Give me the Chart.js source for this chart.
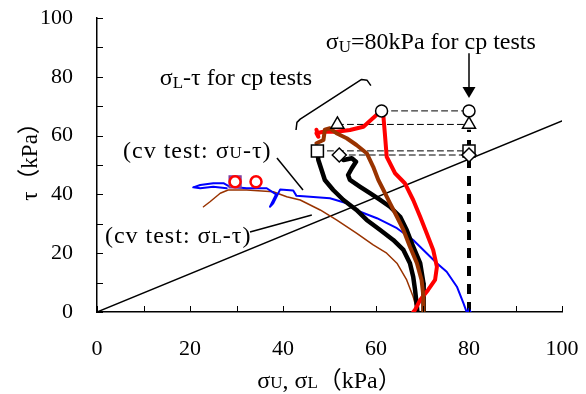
<!DOCTYPE html>
<html>
<head>
<meta charset="utf-8">
<script src="https://cdn.jsdelivr.net/npm/chart.js@4.4.0/dist/chart.umd.min.js"></script>
<style>
  html, body { margin: 0; padding: 0; background: #fff; }
  #wrap { width: 586px; height: 394px; }
</style>
</head>
<body>
<div id="wrap"><canvas id="c"></canvas></div>
<script>
// ---- data, all in kPa ----
// failure line tau = 0.65 sigma
const lineX = [0, 100];
const lineY = [0, 65];

// sigma_U = 80 kPa for cp tests (thick dashed)
const cpDashX = [80, 80];
const cpDashY = [0, 62];

// cp tests: sigma_L - tau paths
const redX = [68.0, 68.4, 69.5, 71.2, 72.7, 73.1, 72.3, 70.9, 69.5, 68.0, 66.2, 64.1, 62.3, 61.9, 61.6, 61.2, 60.1, 57.3, 54.4, 51.5, 48.7, 47.2, 47.6, 47.2];
const redY = [0, 0.7, 4.1, 7.5, 10.9, 15.4, 21.1, 26.8, 32.4, 38.1, 43.8, 47.2, 52.8, 60.8, 66.4, 68.4, 67.0, 63.0, 61.9, 61.3, 61.3, 60.8, 59.6, 62.0];

const blkAX = [47.4, 47.6, 48.3, 49.0, 50.8, 53.0, 55.8, 58.0, 60.9, 63.7, 65.9, 67.3, 68.0, 68.4, 68.8, 68.9];
const blkAY = [54.8, 51.7, 48.3, 44.9, 41.5, 38.1, 34.7, 31.3, 27.9, 24.5, 21.1, 16.6, 12.0, 7.5, 1.8, 0];

const blkBX = [52.1, 53.0, 54.8, 55.7, 54.8, 54.0, 54.4, 56.6, 58.7, 60.9, 63.0, 65.2, 66.6, 68.0, 69.5, 70.2, 70.3, 70.2];
const blkBY = [53.4, 51.7, 52.3, 51.1, 48.9, 46.6, 44.9, 42.6, 40.4, 38.1, 35.8, 32.4, 27.9, 22.2, 16.6, 9.8, 3.0, 0];

const brnX = [47.2, 48.7, 49.0, 50.1, 51.5, 53.7, 55.8, 58.0, 59.4, 60.5, 61.6, 63.0, 64.5, 65.9, 67.3, 68.8, 69.8, 70.2, 70.2];
const brnY = [57.4, 58.5, 62.0, 62.5, 60.8, 59.1, 56.8, 54.0, 49.4, 44.9, 41.5, 37.0, 32.4, 27.9, 22.2, 16.6, 10.9, 5.2, 0];

// cv test paths
const cvBrnX = [69.0, 68.8, 68.0, 66.6, 64.5, 62.3, 59.4, 55.8, 51.5, 48.0, 43.7, 40.8, 37.9, 32.2, 28.2, 26.5, 24.3, 22.9];
const cvBrnY = [0, 0.7, 5.2, 10.9, 16.6, 20.0, 22.8, 26.8, 31.3, 34.7, 38.1, 39.2, 40.9, 41.5, 41.5, 40.4, 37.5, 35.8];

const cvBluX = [79.5, 78.8, 77.4, 75.2, 73.1, 70.9, 68.0, 64.5, 60.2, 56.6, 53.7, 50.1, 45.8, 42.9, 42.2, 39.4, 37.9, 37.2, 38.5, 36.5, 32.2, 28.6, 27.2, 25.0, 22.2, 20.7, 22.2, 25.0, 27.9];
const cvBluY = [0, 3.0, 8.6, 13.7, 16.6, 20.0, 24.5, 28.5, 31.9, 34.1, 37.0, 38.7, 39.2, 39.5, 41.3, 41.7, 37.0, 35.8, 40.0, 42.1, 42.1, 42.6, 43.8, 43.8, 43.2, 42.4, 42.1, 42.6, 42.1];

// cp failure points (circle, triangle, square, diamond)
const cpFailX = [61.2, 51.7, 47.4, 52.1];
const cpFailY = [68.4, 63.8, 54.8, 53.4];
const cpUX = [80, 80, 80, 80];

// cv failure points
const cvFailX = [29.7, 34.2];
const cvFailY = [44.3, 44.3];

const tickStep = 10;
const labelStep = 20;

const xy = (xs, ys) => xs.map((v, i) => ({ x: v, y: ys[i] }));
const serif = "'Liberation Serif', 'Times New Roman', 'Noto Sans CJK JP', serif";

function line(data, color, width, order, dash) {
  return { data, borderColor: color, borderWidth: width, showLine: true, pointRadius: 0,
           borderDash: dash || [], order, borderJoinStyle: 'round', borderCapStyle: 'round' };
}

const datasets = [
  line(xy(lineX, lineY), '#000', 1.5, 9),
  // connecting dashed lines from failure point to sigma_U
  ...cpFailX.map((v, i) => line(xy([v, 80], [cpFailY[i], cpFailY[i]]), '#000', 1, 8, [6, 4])),
  Object.assign(line(xy(cpDashX, cpDashY), '#000', 4, 7, [10, 8]), { borderCapStyle: 'butt' }),
  line(xy(cvBrnX, cvBrnY), '#993300', 1.5, 6),
  line(xy(cvBluX, cvBluY), '#0000ff', 2, 5),
  line(xy(blkAX, blkAY), '#000', 4.5, 4),
  line(xy(blkBX, blkBY), '#000', 4.5, 4),
  line(xy(redX, redY), '#ff0000', 4, 3),
  line(xy(brnX, brnY), '#993300', 4, 2),
  { data: xy([80], [0]), pointStyle: 'triangle', pointRadius: 4, backgroundColor: '#0000ff', borderColor: '#0000ff', order: 1 },
  { data: xy(cpFailX.concat(cpUX), cpFailY.concat(cpFailY)),
    pointStyle: ['circle', 'triangle', 'rect', 'rectRot', 'circle', 'triangle', 'rect', 'rectRot'],
    pointRadius: [6, 7.5, 8.5, 7, 6, 7.5, 8.5, 7],
    backgroundColor: '#fff', borderColor: '#000', borderWidth: 1.5, order: 0 },
  { data: xy([cvFailX[0]], [cvFailY[0]]), pointStyle: 'rect', pointRadius: 8.3,
    backgroundColor: '#a080c0', borderColor: '#7f3f9f', borderWidth: 1.5, order: 0 },
  { data: xy(cvFailX, cvFailY), pointStyle: 'circle', pointRadius: 5.5,
    backgroundColor: '#fff', borderColor: '#ff0000', borderWidth: 2.5, order: -1 },
];

// text pieces: 'sub' = lowered small letter, 'sc' = small letter on the baseline
// x = left edge, y = baseline (data units)
const notes = [
  { x: 49.2, y: 89.5, sp: 0, parts: [['σ'], ['U', 'sub'], ['=80kPa for cp tests']] },
  { x: 13.5, y: 77.2, sp: 0, parts: [['σ'], ['L', 'sub'], ['-τ for cp tests']] },
  { x: 5.6, y: 52.4, sp: 1, parts: [['(cv test: σ'], ['U', 'sc'], ['-τ)']] },
  { x: 1.7, y: 23.5, sp: 1, parts: [['(cv test: σ'], ['L', 'sc'], ['-τ)']] },
];
const bracketX = [42.8, 43.0, 43.7, 56.9, 58.1, 58.9];
const bracketY = [61.9, 64.5, 65.6, 79.1, 78.8, 77.0];
const leaders = [
  { x: [38.7, 44.3], y: [52.4, 41.5] },
  { x: [32.9, 46.2], y: [27.2, 33.0] },
];

function setFont(ctx, kind, size) {
  ctx.font = (kind ? Math.round(size * 0.7) : size) + 'px ' + serif;
}
function richWidth(ctx, parts, size) {
  let w = 0;
  parts.forEach(p => { setFont(ctx, p[1], size); w += ctx.measureText(p[0]).width; });
  return w;
}
function drawRich(ctx, x, y, parts, size, align, sp) {
  ctx.letterSpacing = (sp || 0) + 'px';
  if (align === 'center') x -= richWidth(ctx, parts, size) / 2;
  ctx.textBaseline = 'alphabetic';
  ctx.textAlign = 'left';
  parts.forEach(p => {
    setFont(ctx, p[1], size);
    ctx.fillText(p[0], x, y + (p[1] === 'sub' ? 3 : 0));
    x += ctx.measureText(p[0]).width;
  });
  ctx.letterSpacing = '0px';
}

const extras = {
  id: 'extras',
  afterDraw(chart) {
    const { ctx, chartArea: a, scales: { x, y } } = chart;
    ctx.save();
    ctx.strokeStyle = '#000';
    ctx.fillStyle = '#000';
    // inward ticks
    ctx.lineWidth = 1;
    x.ticks.forEach(t => {
      const px = Math.round(x.getPixelForValue(t.value)) + 0.5;
      ctx.beginPath(); ctx.moveTo(px, a.bottom); ctx.lineTo(px, a.bottom - 6); ctx.stroke();
    });
    y.ticks.forEach(t => {
      const py = Math.round(y.getPixelForValue(t.value)) + 0.5;
      ctx.beginPath(); ctx.moveTo(a.left, py); ctx.lineTo(a.left + 6, py); ctx.stroke();
    });
    // bracket and leader lines
    ctx.lineWidth = 1.5;
    ctx.lineJoin = 'round';
    ctx.beginPath();
    bracketX.forEach((v, i) => {
      const px = x.getPixelForValue(v), py = y.getPixelForValue(bracketY[i]);
      i ? ctx.lineTo(px, py) : ctx.moveTo(px, py);
    });
    ctx.stroke();
    leaders.forEach(l => {
      ctx.beginPath();
      ctx.moveTo(x.getPixelForValue(l.x[0]), y.getPixelForValue(l.y[0]));
      ctx.lineTo(x.getPixelForValue(l.x[1]), y.getPixelForValue(l.y[1]));
      ctx.stroke();
    });
    // arrow to sigma_U = 80
    const ax = x.getPixelForValue(80), ay0 = y.getPixelForValue(88), ay1 = y.getPixelForValue(72.8);
    ctx.beginPath(); ctx.moveTo(ax, ay0); ctx.lineTo(ax, ay1 - 10); ctx.stroke();
    ctx.beginPath(); ctx.moveTo(ax - 6.5, ay1 - 11); ctx.lineTo(ax + 6.5, ay1 - 11); ctx.lineTo(ax, ay1); ctx.closePath(); ctx.fill();
    // notes
    notes.forEach(n => {
      drawRich(ctx, x.getPixelForValue(n.x), y.getPixelForValue(n.y), n.parts, 24, 'left', n.sp);
    });
    // axis titles
    drawRich(ctx, (a.left + a.right) / 2, 388, [['σ'], ['U', 'sc'], [', σ'], ['L', 'sc'], ['（kPa）']], 24, 'center');
    ctx.translate(37, 156);
    ctx.rotate(-Math.PI / 2);
    drawRich(ctx, 0, 0, [['τ（kPa）']], 23, 'center');
    ctx.restore();
  }
};

new Chart(document.getElementById('c'), {
  type: 'scatter',
  data: { datasets },
  options: {
    responsive: true,
    maintainAspectRatio: false,
    animation: false,
    layout: { padding: { top: 18, right: 24, left: 0, bottom: 0 } },
    plugins: { legend: { display: false }, tooltip: { enabled: false } },
    scales: {
      x: {
        min: 0, max: 100,
        afterFit: s => { s.height = 82; s.paddingLeft = 0; s.paddingRight = 0; },
        grid: { display: false, drawTicks: false },
        border: { display: true, color: '#000', width: 1.5 },
        ticks: { stepSize: tickStep, padding: 24, color: '#000', maxRotation: 0, autoSkip: false,
                 font: { family: serif, size: 22 },
                 callback: v => (v % labelStep === 0 ? v : '') }
      },
      y: {
        min: 0, max: 100,
        afterFit: s => { s.width = 97; s.paddingTop = 0; s.paddingBottom = 0; },
        grid: { display: false, drawTicks: false },
        border: { display: true, color: '#000', width: 1.5 },
        ticks: { stepSize: tickStep, padding: 24, color: '#000', autoSkip: false,
                 font: { family: serif, size: 22 },
                 callback: v => (v % labelStep === 0 ? v : '') }
      }
    }
  },
  plugins: [extras]
});
</script>
</body>
</html>
